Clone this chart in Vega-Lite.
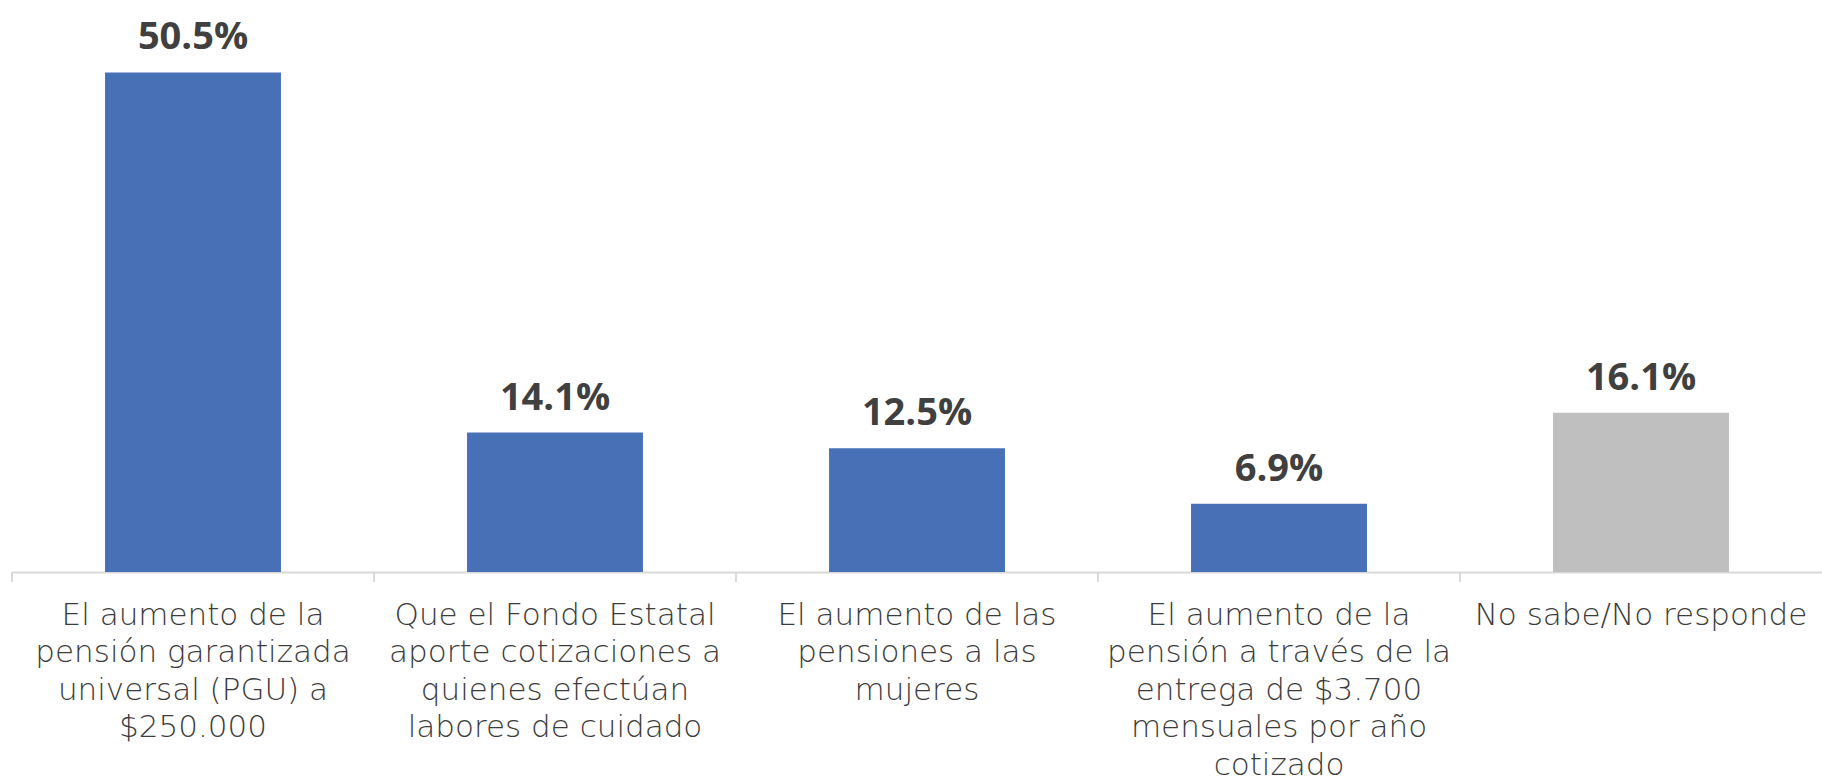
{
  "$schema": "https://vega.github.io/schema/vega-lite/v6.json",
  "width": 1810,
  "height": 554,
  "autosize": {"type": "none"},
  "padding": {"left": 12, "top": 18, "right": 0, "bottom": 211},
  "background": "white",
  "config": {"view": {"stroke": null}, "font": "Open Sans"},
  "data": {
    "values": [
      {"respuesta": "El aumento de la\npensión garantizada\nuniversal (PGU) a\n$250.000", "pct": 0.505, "grupo": "opcion"},
      {"respuesta": "Que el Fondo Estatal\naporte cotizaciones a\nquienes efectúan\nlabores de cuidado", "pct": 0.141, "grupo": "opcion"},
      {"respuesta": "El aumento de las\npensiones a las\nmujeres", "pct": 0.125, "grupo": "opcion"},
      {"respuesta": "El aumento de la\npensión a través de la\nentrega de $3.700\nmensuales por año\ncotizado", "pct": 0.069, "grupo": "opcion"},
      {"respuesta": "No sabe/No responde", "pct": 0.161, "grupo": "nsnr"}
    ]
  },
  "encoding": {
    "x": {
      "field": "respuesta",
      "type": "nominal",
      "sort": null,
      "scale": {"paddingInner": 0.514, "paddingOuter": 0.257},
      "axis": {
        "title": null,
        "labelAngle": 0,
        "labelExpr": "split(datum.label, '\\n')",
        "labelFont": "DejaVu Sans",
        "labelFontSize": 31,
        "labelFontWeight": 300,
        "labelColor": "#3c3c3c",
        "labelLineHeight": 37.5,
        "labelPadding": 28,
        "labelLimit": 0,
        "labelOverlap": false,
        "ticks": false,
        "domainColor": "#d9d9d9",
        "domainWidth": 2
      }
    },
    "y": {
      "field": "pct",
      "type": "quantitative",
      "scale": {"domain": [0, 0.56]},
      "axis": null
    }
  },
  "layer": [
    {
      "mark": {"type": "bar"},
      "encoding": {
        "color": {
          "field": "grupo",
          "type": "nominal",
          "scale": {"domain": ["opcion", "nsnr"], "range": ["#4770b7", "#bfbfbf"]},
          "legend": null
        }
      }
    },
    {
      "mark": {"type": "rule", "color": "#d9d9d9", "strokeWidth": 2, "y2Offset": 10},
      "encoding": {
        "x": {"field": "respuesta", "type": "nominal", "sort": null, "bandPosition": -0.529},
        "y": {"datum": 0},
        "y2": {"datum": 0}
      }
    },
    {
      "mark": {"type": "text", "baseline": "alphabetic", "dy": -23, "fontSize": 38, "fontWeight": "bold", "color": "#404040"},
      "encoding": {
        "text": {"field": "pct", "type": "quantitative", "format": ".1%"}
      }
    }
  ]
}
